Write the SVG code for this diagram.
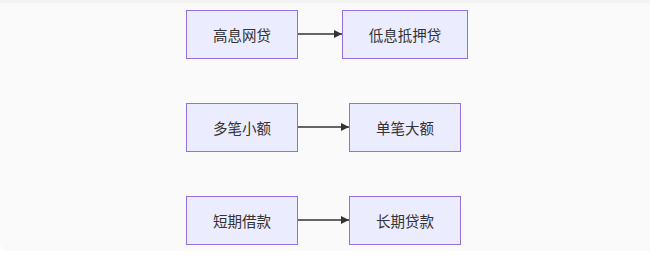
<svg xmlns="http://www.w3.org/2000/svg" width="650" height="261" viewBox="0 0 650 261">
<defs>
<style>
.node rect{fill:#ECECFF;stroke:#9370DB;stroke-width:1}
.node text{font-family:"Noto Sans CJK SC","Liberation Sans",sans-serif;font-size:14.5px;fill:#333;text-anchor:middle;dominant-baseline:central}
.edge{stroke:#333;stroke-width:1.5;fill:none}
</style>
<marker id="arr" viewBox="0 0 10 10" refX="10" refY="5" markerWidth="8" markerHeight="8" markerUnits="userSpaceOnUse" orient="auto">
<path d="M0,0 L10,5 L0,10 z" fill="#333"/>
</marker>
</defs>
<rect x="0" y="0" width="650" height="261" fill="#ffffff"/>
<rect x="0" y="0" width="650" height="12" fill="#f3f3f3"/>
<path d="M0,3 H650 V251 H8 A8,8 0 0 1 0,243 Z" fill="#fafafa"/>
<g id="connectors">
<path class="edge" d="M298,34 L342,34" marker-end="url(#arr)"/>
<path class="edge" d="M298,127 L349,127" marker-end="url(#arr)"/>
<path class="edge" d="M298,220 L349,220" marker-end="url(#arr)"/>
</g>
<g id="n1" class="node"><rect x="186.5" y="10.5" width="111" height="48"/><text x="242" y="34">高息网贷</text></g>
<g id="n2" class="node"><rect x="342.5" y="10.5" width="125" height="48"/><text x="405" y="34">低息抵押贷</text></g>
<g id="n3" class="node"><rect x="186.5" y="103.5" width="111" height="48"/><text x="242" y="127">多笔小额</text></g>
<g id="n4" class="node"><rect x="349.5" y="103.5" width="111" height="48"/><text x="405" y="127">单笔大额</text></g>
<g id="n5" class="node"><rect x="186.5" y="196.5" width="111" height="48"/><text x="242" y="220">短期借款</text></g>
<g id="n6" class="node"><rect x="349.5" y="196.5" width="111" height="48"/><text x="405" y="220">长期贷款</text></g>
</svg>
